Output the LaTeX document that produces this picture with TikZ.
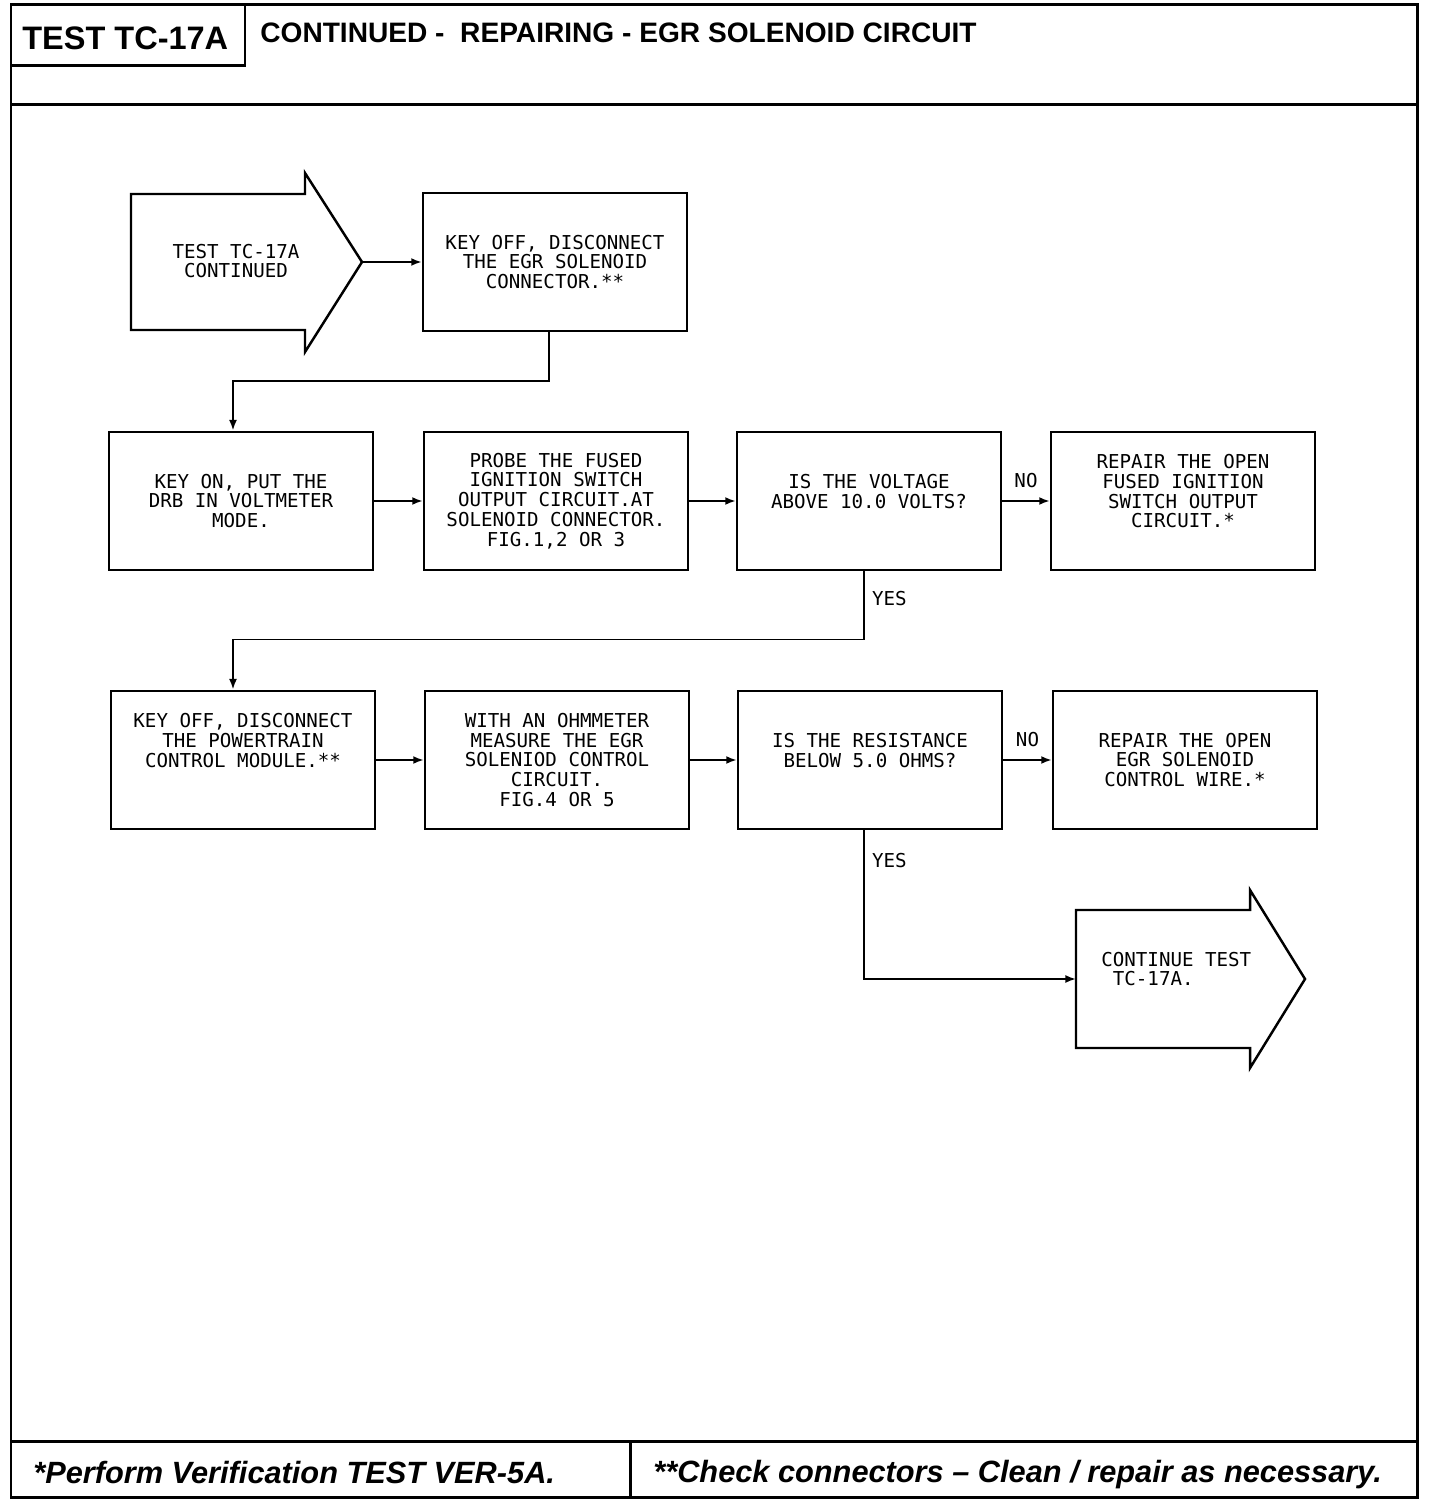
\documentclass[tikz,border=0pt]{standalone}
\usepackage{fontspec}
\setmainfont{Liberation Sans}
\newfontfamily\plotfont{DejaVu Sans Mono}
\usetikzlibrary{arrows.meta,calc}
\newcommand\plottext{\plotfont\fontsize{10.9}{11.3}\selectfont}

\begin{document}
\begin{tikzpicture}[x=0.02cm, y=-0.02cm, line join=miter,
    frame/.style={draw=black, line width=1.7pt},
    stepbox/.style={draw=black, line width=1.4pt, minimum width=5.28cm, minimum height=2.77cm,
      inner sep=0pt, align=center, font=\plottext},
    bigarrow/.style={draw=black, line width=1.4pt},
    flow/.style={draw=black, line width=1.1pt, -{Latex[length=6pt, width=4.5pt]}},
    lbl/.style={font=\plottext, inner sep=0pt},
    hdr/.style={font=\bfseries\fontsize{18.5}{20}\selectfont, inner sep=0pt, anchor=west},
    note/.style={font=\bfseries\itshape\fontsize{17.5}{20}\selectfont, inner sep=0pt, anchor=base west},
  ]
  \useasboundingbox[fill=white] (0,0) rectangle (1440,1506);

  % page frame, header and footer
  \draw[frame] (11,5) rectangle (1417,1497);
  \draw[frame] (11,105) -- (1417,105);
  \draw[frame] (11,66) -| (245,5);
  \draw[frame] (11,1441) -- (1417,1441);
  \draw[frame] (630,1441) -- (630,1497);
  \node[hdr] (testno) at (22,38) {TEST TC-17A};
  \node[hdr, font=\bfseries\fontsize{16}{18}\selectfont] (title) at (260,33) {CONTINUED -\ \ REPAIRING - EGR SOLENOID CIRCUIT};
  \node[note] (verify) at (33,1483) {*Perform Verification TEST VER-5A.};
  \node[note] (checkconn) at (653,1482) {**Check connectors -- Clean / repair as necessary.};

  % entry arrow
  \draw[bigarrow] (131,194) -- (305,194) -- (305,173) -- (362,262) -- (305,352) -- (305,330) -- (131,330) -- cycle;
  \coordinate (starttip) at (362,262);
  \node[lbl, align=center] (start) at (236,261) {TEST TC-17A\\CONTINUED};

  % exit arrow
  \draw[bigarrow] (1076,910) -- (1250,910) -- (1250,890) -- (1305,979) -- (1250,1068) -- (1250,1048) -- (1076,1048) -- cycle;
  \coordinate (finishin) at (1076,979);
  \node[lbl, align=left, anchor=west] (finish) at (1101,969) {CONTINUE TEST\\\hphantom{C}TC-17A.};

  % first row
  \node[stepbox] (keyoff) at (555,262) {KEY OFF, DISCONNECT\\THE EGR SOLENOID\\CONNECTOR.**};

  % second row
  \node[stepbox] (drbmode) at (241,501) {KEY ON, PUT THE\\DRB IN VOLTMETER\\MODE.};
  \node[stepbox] (probe) at (556,501) {PROBE THE FUSED\\IGNITION SWITCH\\OUTPUT CIRCUIT.AT\\SOLENOID CONNECTOR.\\FIG.1,2 OR 3};
  \node[stepbox] (voltq) at (869,501) {IS THE VOLTAGE\\ABOVE 10.0 VOLTS?\\\mbox{}};
  \node[stepbox] (repairfused) at (1183,501) {REPAIR THE OPEN\\FUSED IGNITION\\SWITCH OUTPUT\\CIRCUIT.*\\\mbox{}};

  % third row
  \node[stepbox] (disconnpcm) at (243,760) {KEY OFF, DISCONNECT\\THE POWERTRAIN\\CONTROL MODULE.**\\\mbox{}\\\mbox{}};
  \node[stepbox] (ohmmeter) at (557,760) {WITH AN OHMMETER\\MEASURE THE EGR\\SOLENIOD CONTROL\\CIRCUIT.\\FIG.4 OR 5};
  \node[stepbox] (resq) at (870,760) {IS THE RESISTANCE\\BELOW 5.0 OHMS?\\\mbox{}};
  \node[stepbox] (repairwire) at (1185,760) {REPAIR THE OPEN\\EGR SOLENOID\\CONTROL WIRE.*};

  % connectors (the drops sit a little left of the box centres)
  \draw[flow] (starttip) -- (keyoff.west);
  \draw[flow] ($(keyoff.south)+(-6,0)$) -- ++(0,49) -| ($(drbmode.north)+(-8,0)$);
  \draw[flow] (drbmode.east) -- (probe.west);
  \draw[flow] (probe.east) -- (voltq.west);
  \draw[flow] (voltq.east) -- node[lbl, above=7pt] {NO} (repairfused.west);
  \draw[flow] ($(voltq.south)+(-5,0)$) -- node[lbl, right=4pt, pos=0.4] {YES} ++(0,68) -| ($(disconnpcm.north)+(-10,0)$);
  \draw[flow] (disconnpcm.east) -- (ohmmeter.west);
  \draw[flow] (ohmmeter.east) -- (resq.west);
  \draw[flow] (resq.east) -- node[lbl, above=7pt] {NO} (repairwire.west);
  \draw[flow] ($(resq.south)+(-6,0)$) |- node[lbl, right=4pt, pos=0.1] {YES} (finishin);
\end{tikzpicture}
\end{document}
